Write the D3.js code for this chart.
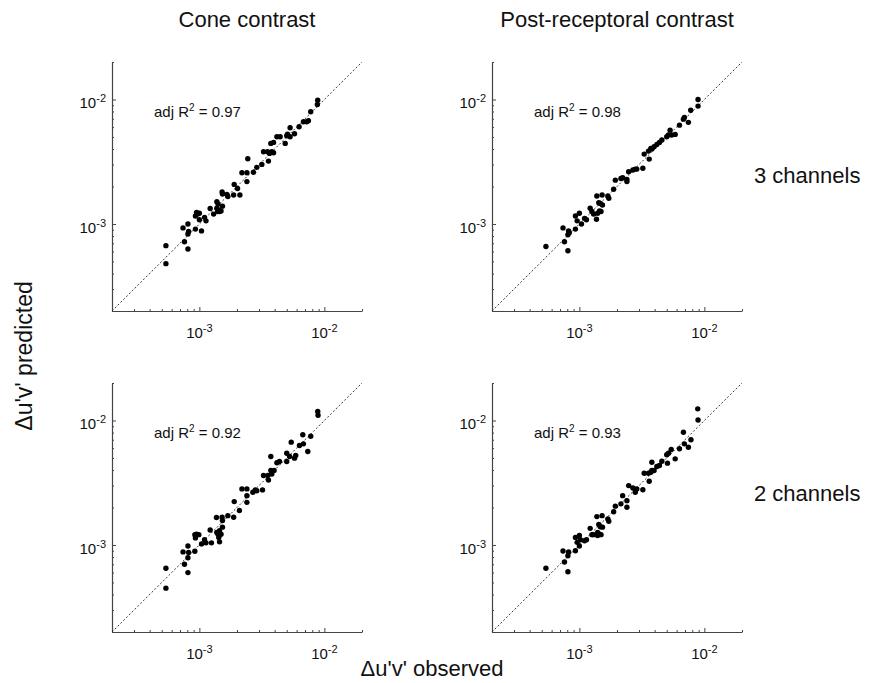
<!DOCTYPE html>
<html lang="en">
  <head>
    <meta charset="utf-8">
    <script src="https://d3js.org/d3.v7.min.js"></script>
    <style>
      body { margin: 0; background: #fff; }
      text { font-family: "Liberation Sans", Arial, sans-serif; fill: #111; }
    </style>
  </head>
  <body>
    <svg id="chart" width="872" height="683"></svg>
    <script>

    // column / row headings
    var colTitles = ["Cone contrast", "Post-receptoral contrast"];
    var rowLabels = ["3 channels", "2 channels"];
    var r2Labels = [["0.97", "0.98"], ["0.92", "0.93"]];
    var majorTicks = [1e-3, 1e-2];
    var tickExp = ["-3", "-2"];

    // cone contrast, 3 channels
    var obsCone3 = [5.4e-4,5.4e-4,8.1e-4,7.6e-4,7.4e-4,8.1e-4,8.2e-4,8.1e-4,9.3e-4,1.04e-3,9.5e-4,9.7e-4,1.0e-3,9.3e-4,1.0e-3,1.10e-3,1.13e-3,1.22e-3,1.30e-3,1.38e-3,1.41e-3,1.38e-3,1.44e-3,1.45e-3,1.49e-3,1.40e-3,1.53e-3,1.52e-3,1.53e-3,1.69e-3,1.66e-3,1.88e-3,2.11e-3,1.90e-3,2.02e-3,2.19e-3,2.40e-3,2.40e-3,2.44e-3,2.71e-3,2.88e-3,3.16e-3,3.26e-3,3.51e-3,3.57e-3,3.64e-3,3.80e-3,3.92e-3,3.73e-3,3.92e-3,4.17e-3,4.43e-3,4.86e-3,5.0e-3,5.07e-3,5.32e-3,5.32e-3,5.77e-3,6.28e-3,6.80e-3,7.23e-3,7.45e-3,7.78e-3,8.85e-3,8.79e-3];
    var predCone3 = [6.7e-4,4.8e-4,6.3e-4,7.2e-4,9.3e-4,1.0e-3,8.7e-4,8.3e-4,9.1e-4,8.8e-4,1.24e-3,1.20e-3,1.22e-3,1.16e-3,1.08e-3,1.13e-3,1.06e-3,1.33e-3,1.20e-3,1.51e-3,1.45e-3,1.34e-3,1.29e-3,1.26e-3,1.27e-3,1.26e-3,1.39e-3,1.81e-3,1.74e-3,1.66e-3,1.73e-3,1.71e-3,1.71e-3,2.08e-3,1.93e-3,2.58e-3,2.58e-3,2.19e-3,3.34e-3,2.60e-3,2.85e-3,3.01e-3,3.80e-3,3.80e-3,3.20e-3,3.69e-3,3.80e-3,3.73e-3,4.44e-3,4.52e-3,5.02e-3,5.02e-3,4.44e-3,5.11e-3,5.27e-3,5.93e-3,5.02e-3,5.31e-3,6.04e-3,6.62e-3,6.62e-3,6.74e-3,7.96e-3,9.88e-3,9.12e-3];

    // post-receptoral contrast, 3 channels
    var obsPost3 = [5.4e-4,7.6e-4,8.1e-4,7.4e-4,8.2e-4,8.1e-4,8.3e-4,9.3e-4,9.3e-4,9.6e-4,1.0e-3,1.04e-3,1.10e-3,1.14e-3,1.22e-3,1.26e-3,1.30e-3,1.37e-3,1.38e-3,1.52e-3,1.43e-3,1.47e-3,1.53e-3,1.45e-3,1.40e-3,1.49e-3,1.69e-3,1.72e-3,1.88e-3,1.94e-3,2.15e-3,2.22e-3,2.40e-3,2.40e-3,2.48e-3,2.68e-3,2.80e-3,2.88e-3,3.22e-3,3.30e-3,3.57e-3,3.62e-3,3.73e-3,3.80e-3,3.96e-3,4.17e-3,4.37e-3,4.57e-3,5.0e-3,5.16e-3,5.32e-3,5.48e-3,5.84e-3,6.32e-3,6.80e-3,6.92e-3,7.45e-3,7.78e-3,8.9e-3,8.9e-3];
    var predPost3 = [6.6e-4,7.2e-4,6.1e-4,9.3e-4,8.8e-4,8.2e-4,8.5e-4,9.1e-4,1.16e-3,1.06e-3,1.22e-3,1.0e-3,1.11e-3,1.08e-3,1.34e-3,1.26e-3,1.20e-3,1.09e-3,1.68e-3,1.71e-3,1.48e-3,1.46e-3,1.42e-3,1.27e-3,1.22e-3,1.26e-3,1.68e-3,1.61e-3,1.90e-3,2.25e-3,2.32e-3,2.35e-3,2.28e-3,2.19e-3,2.63e-3,2.71e-3,2.76e-3,2.76e-3,2.80e-3,3.64e-3,3.85e-3,3.32e-3,4.05e-3,4.0e-3,4.17e-3,4.35e-3,4.52e-3,4.72e-3,5.02e-3,5.18e-3,5.67e-3,5.18e-3,5.24e-3,6.22e-3,6.95e-3,7.17e-3,6.55e-3,8.2e-3,1.0e-2,8.85e-3];

    // cone contrast, 2 channels
    var obsCone2 = [5.4e-4,5.4e-4,8.1e-4,7.6e-4,7.4e-4,8.1e-4,8.2e-4,8.1e-4,9.2e-4,9.5e-4,9.9e-4,9.3e-4,9.2e-4,1.04e-3,1.10e-3,1.13e-3,1.22e-3,1.25e-3,1.37e-3,1.38e-3,1.41e-3,1.45e-3,1.49e-3,1.43e-3,1.45e-3,1.52e-3,1.53e-3,1.53e-3,1.69e-3,1.88e-3,1.90e-3,2.09e-3,2.19e-3,2.40e-3,2.40e-3,2.40e-3,2.68e-3,2.80e-3,2.88e-3,3.2e-3,3.26e-3,3.53e-3,3.57e-3,3.73e-3,3.80e-3,3.96e-3,3.73e-3,4.17e-3,4.37e-3,5.0e-3,5.0e-3,5.27e-3,5.43e-3,5.77e-3,5.90e-3,6.32e-3,6.80e-3,6.72e-3,7.37e-3,7.78e-3,8.85e-3,8.9e-3];
    var predCone2 = [6.5e-4,4.5e-4,6.0e-4,7.0e-4,8.8e-4,9.8e-4,8.7e-4,7.9e-4,8.9e-4,1.22e-3,1.21e-3,1.14e-3,1.21e-3,1.02e-3,1.10e-3,1.04e-3,1.32e-3,1.04e-3,1.66e-3,1.26e-3,1.22e-3,1.30e-3,1.22e-3,1.15e-3,1.06e-3,1.67e-3,1.57e-3,1.39e-3,1.72e-3,1.67e-3,2.23e-3,1.89e-3,2.82e-3,2.82e-3,2.49e-3,2.20e-3,2.65e-3,2.77e-3,2.73e-3,2.77e-3,3.61e-3,3.61e-3,3.33e-3,3.96e-3,3.72e-3,3.96e-3,5.13e-3,4.57e-3,4.68e-3,4.68e-3,5.46e-3,5.13e-3,6.7e-3,4.98e-3,5.23e-3,6.3e-3,6.49e-3,7.67e-3,5.64e-3,7.48e-3,1.18e-2,1.10e-2];

    // post-receptoral contrast, 2 channels
    var obsPost2 = [5.4e-4,7.6e-4,8.1e-4,7.4e-4,8.2e-4,8.1e-4,9.3e-4,9.3e-4,9.6e-4,1.0e-3,1.02e-3,1.0e-3,1.10e-3,1.14e-3,1.22e-3,1.26e-3,1.30e-3,1.38e-3,1.52e-3,1.43e-3,1.47e-3,1.53e-3,1.45e-3,1.40e-3,1.49e-3,1.40e-3,1.69e-3,1.72e-3,1.88e-3,1.94e-3,2.15e-3,2.22e-3,2.40e-3,2.40e-3,2.48e-3,2.68e-3,2.80e-3,2.88e-3,3.22e-3,3.30e-3,3.57e-3,3.62e-3,3.73e-3,3.80e-3,3.80e-3,3.96e-3,4.17e-3,4.37e-3,4.57e-3,5.0e-3,5.16e-3,5.07e-3,5.43e-3,5.84e-3,6.32e-3,6.80e-3,6.92e-3,7.45e-3,7.81e-3,8.85e-3,8.9e-3];
    var predPost2 = [6.5e-4,7.3e-4,6.1e-4,8.95e-4,8.8e-4,8.2e-4,9.0e-4,1.15e-3,1.05e-3,1.19e-3,1.10e-3,9.8e-4,1.08e-3,1.10e-3,1.36e-3,1.21e-3,1.21e-3,1.69e-3,1.72e-3,1.46e-3,1.40e-3,1.39e-3,1.22e-3,1.19e-3,1.21e-3,1.26e-3,1.62e-3,1.55e-3,1.85e-3,2.05e-3,2.14e-3,2.49e-3,2.27e-3,2.01e-3,3.0e-3,2.87e-3,2.65e-3,2.82e-3,2.78e-3,3.77e-3,3.77e-3,3.25e-3,3.84e-3,3.96e-3,4.62e-3,3.96e-3,4.27e-3,4.35e-3,4.71e-3,5.30e-3,5.46e-3,4.54e-3,5.85e-3,4.92e-3,5.92e-3,8.05e-3,6.49e-3,6.1e-3,7.0e-3,1.24e-2,1.01e-2];

    var panels = [
      {row: 0, col: 0, obs: obsCone3, pred: predCone3},
      {row: 0, col: 1, obs: obsPost3, pred: predPost3},
      {row: 1, col: 0, obs: obsCone2, pred: predCone2},
      {row: 1, col: 1, obs: obsPost2, pred: predPost2}
    ];

    var svg = d3.select("#chart");
    var pw = 250, ph = 249;
    var lefts = [112, 492], tops = [62, 383];
    var axisColor = "#444";

    var x = d3.scaleLog().domain([2e-4, 2e-2]).range([0, pw]);
    var y = d3.scaleLog().domain([2e-4, 2e-2]).range([ph, 0]);

    // every 1..9 x decade inside the domain
    var allTicks = [];
    [1e-4, 1e-3, 1e-2].forEach(function(dec) {
      for (var k = 1; k <= 9; k++) {
        var v = dec * k;
        if (v >= 2e-4 && v <= 2e-2) allTicks.push(v);
      }
    });
    var isMajor = function(v) {
      return majorTicks.some(function(m) { return Math.abs(v / m - 1) < 1e-6; });
    };

    var drawPanel = function(p) {
      var g = svg.append("g")
        .attr("transform", "translate(" + lefts[p.col] + "," + tops[p.row] + ")");

      // x axis, ticks point inward
      var gx = g.append("g")
        .attr("transform", "translate(0," + ph + ")")
        .call(d3.axisBottom(x).tickValues(allTicks).tickSizeInner(-2).tickSizeOuter(0).tickFormat(""));
      gx.selectAll(".tick line").filter(isMajor).attr("y2", -4);

      var gy = g.append("g")
        .call(d3.axisLeft(y).tickValues(allTicks).tickSizeInner(-2).tickSizeOuter(0).tickFormat(""));
      gy.selectAll(".tick line").filter(isMajor).attr("x2", 4);

      [gx, gy].forEach(function(a) {
        a.select(".domain").attr("stroke", axisColor).attr("stroke-width", 1.2);
        a.selectAll(".tick line").attr("stroke", axisColor);
      });

      // tick labels with exponents
      majorTicks.forEach(function(v, i) {
        var tx = g.append("text")
          .attr("x", x(v))
          .attr("y", ph + 27)
          .attr("text-anchor", "middle")
          .style("font-size", "15px");
        tx.append("tspan").text("10");
        tx.append("tspan").attr("dy", -6).style("font-size", "11px").text(tickExp[i]);

        var ty = g.append("text")
          .attr("x", -6)
          .attr("y", y(v) + 9)
          .attr("text-anchor", "end")
          .style("font-size", "15px");
        ty.append("tspan").text("10");
        ty.append("tspan").attr("dy", -6).style("font-size", "11px").text(tickExp[i]);
      });

      // identity line
      g.append("line")
        .attr("x1", x(2e-4)).attr("y1", y(2e-4))
        .attr("x2", x(2e-2)).attr("y2", y(2e-2))
        .attr("stroke", "#222")
        .attr("stroke-width", 0.9)
        .attr("stroke-dasharray", "2,2");

      g.selectAll("circle")
        .data(p.obs)
        .enter()
        .append("circle")
        .attr("cx", function(d) { return x(d); })
        .attr("cy", function(d, i) { return y(p.pred[i]); })
        .attr("r", 2.7)
        .attr("fill", "#000");

      var r2 = g.append("text")
        .attr("x", 42)
        .attr("y", 55)
        .style("font-size", "15px");
      r2.append("tspan").text("adj R");
      r2.append("tspan").attr("dy", -6).style("font-size", "10px").text("2");
      r2.append("tspan").attr("dy", 6).text(" = " + r2Labels[p.row][p.col]);
    };

    panels.forEach(drawPanel);

    // column titles
    var titleCenters = [247, 617];
    colTitles.forEach(function(t, i) {
      svg.append("text")
        .attr("x", titleCenters[i])
        .attr("y", 27)
        .attr("text-anchor", "middle")
        .style("font-size", "22px")
        .text(t);
    });

    // row labels
    rowLabels.forEach(function(t, i) {
      svg.append("text")
        .attr("x", 754)
        .attr("y", [183, 501][i])
        .style("font-size", "22px")
        .text(t);
    });

    svg.append("text")
      .attr("transform", "translate(32,356) rotate(-90)")
      .attr("text-anchor", "middle")
      .style("font-size", "23px")
      .text("\u0394u'v' predicted");

    svg.append("text")
      .attr("x", 432)
      .attr("y", 676)
      .attr("text-anchor", "middle")
      .style("font-size", "22px")
      .text("\u0394u'v' observed");

    </script>
  </body>
</html>
